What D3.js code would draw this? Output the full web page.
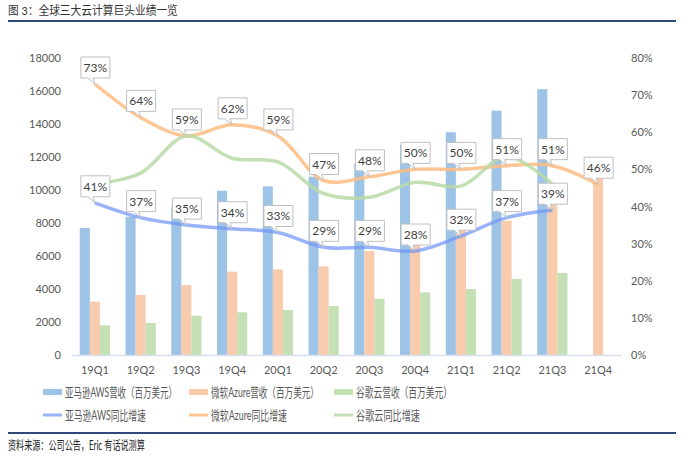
<!DOCTYPE html>
<html>
<head>
<meta charset="utf-8">
<script src="https://cdn.jsdelivr.net/npm/d3@7"></script>
<style>
  body { margin: 0; background: #fff; }
  text { font-family: Lato, "Noto Sans CJK SC", sans-serif; }
</style>
</head>
<body>
<div id="visualisation"></div>
<script>
// Données
var quarters = ["19Q1","19Q2","19Q3","19Q4","20Q1","20Q2","20Q3","20Q4","21Q1","21Q2","21Q3","21Q4"];
var awsRevenue = [7696, 8381, 8995, 9954, 10219, 10808, 11601, 12742, 13503, 14809, 16110, null];
var azureRevenue = [3230, 3640, 4240, 5050, 5190, 5370, 6300, 6830, 7740, 8140, 9350, 10850];
var googleRevenue = [1800, 1940, 2380, 2590, 2730, 2970, 3410, 3800, 4000, 4610, 4970, null];
var awsGrowth = [41, 37, 35, 34, 33, 29, 29, 28, 32, 37, 39, null];
var azureGrowth = [73, 64, 59, 62, 59, 47, 48, 50, 50, 51, 51, 46];
var googleGrowth = [46, 49, 59, 53, 52, 43.5, 42.5, 46.5, 45.5, 53.5, 46, null];
var leftTicks = [0, 2000, 4000, 6000, 8000, 10000, 12000, 14000, 16000, 18000];
var rightTicks = [0, 10, 20, 30, 40, 50, 60, 70, 80];
var barNames = ["亚马逊AWS营收（百万美元）", "微软Azure营收（百万美元）", "谷歌云营收（百万美元）"];
var lineNames = ["亚马逊AWS同比增速", "微软Azure同比增速", "谷歌云同比增速"];

var barColor = ["#9dc3e6", "#f8cbad", "#c5e0b4"];
var lineColor = ["#7096f6", "#ffbc80", "#b9d9a6"];
var lineOpacity = [0.72, 0.85, 0.85];
var textColor = "#595959";

// largeurs des textes dans l'image d'origine (police plus étroite)
var barNameWidth = [112, 108, 96];
var lineNameWidth = [81, 76, 64];

//Création du svg
var svg = d3.select("#visualisation")
            .append("svg")
            .attr("width", 684)
            .attr("height", 458);

// texte resserré horizontalement jusqu'à la largeur voulue
function narrowText(x, y, size, color, width, txt)
{
  var t = svg.append("text")
     .attr("font-size", size).attr("fill", color)
     .text(txt);
  var k = width / t.node().getComputedTextLength();
  t.attr("transform", "translate(" + x + "," + y + ") scale(" + k + ",1)");
  return t;
}

// Titre et filets
narrowText(8, 15, 12, "#333", 170, "图 3：全球三大云计算巨头业绩一览");
svg.append("line").attr("x1", 8).attr("x2", 676).attr("y1", 21).attr("y2", 21)
   .attr("stroke", "#2d4a78").attr("stroke-width", 2);
svg.append("line").attr("x1", 8).attr("x2", 676).attr("y1", 433).attr("y2", 433)
   .attr("stroke", "#2d4a78").attr("stroke-width", 2);
narrowText(8, 450, 12.5, "#222", 137, "资料来源：公司公告，Eric 有话说测算");

// Echelles
var x0 = d3.scaleBand().domain(quarters).range([72, 621]).padding(0);
var bw = x0.bandwidth();
var x1 = d3.scaleBand().domain([0, 1, 2]).range([bw * 0.17, bw * 0.83]).padding(0);
var yLeft = d3.scaleLinear().domain([0, 18000]).range([355, 58]);
var yRight = d3.scaleLinear().domain([0, 80]).range([355, 58]);

function cx(q) { return x0(q) + x1(1) + x1.bandwidth() / 2; }

// Axes
var axisLeft = d3.axisLeft(yLeft).tickValues(leftTicks).tickSize(0).tickPadding(0)
                 .tickFormat(d3.format("d"));
var gl = svg.append("g").attr("transform", "translate(61,0)").call(axisLeft);
var axisRight = d3.axisRight(yRight).tickValues(rightTicks).tickSize(0).tickPadding(0)
                  .tickFormat(function(d){ return d + "%"; });
var gr = svg.append("g").attr("transform", "translate(631,0)").call(axisRight);
var axisBottom = d3.axisBottom(x0).tickSize(0).tickPadding(11);
var gb = svg.append("g").attr("transform", "translate(0,355)").call(axisBottom);

[gl, gr, gb].forEach(function(g){
  g.select(".domain").remove();
  g.selectAll("text").attr("font-size", 11).attr("fill", textColor)
   .attr("font-family", "Lato, 'Noto Sans CJK SC', sans-serif");
});
gb.selectAll("text").attr("dy", "0.71em");

// Barres
var series = [awsRevenue, azureRevenue, googleRevenue];
var barGroup = svg.append("g");
series.forEach(function(values, s){
  barGroup.selectAll(".bar" + s)
    .data(quarters.map(function(q, i){ return {q: q, v: values[i]}; }).filter(function(d){ return d.v != null; }))
    .enter()
      .append("rect")
      .attr("x", function(d){ return x0(d.q) + x1(s); })
      .attr("y", function(d){ return yLeft(d.v); })
      .attr("width", x1.bandwidth())
      .attr("height", function(d){ return 355 - yLeft(d.v); })
      .attr("fill", barColor[s]);
});

// Axe horizontal
svg.append("line").attr("x1", 72).attr("x2", 621).attr("y1", 355.5).attr("y2", 355.5)
   .attr("stroke", "#d6e0ef").attr("stroke-width", 1.5);

// Courbes
var growth = [awsGrowth, azureGrowth, googleGrowth];
var line = d3.line()
  .defined(function(d){ return d.v != null; })
  .x(function(d){ return cx(d.q); })
  .y(function(d){ return yRight(d.v); })
  .curve(d3.curveCatmullRom.alpha(0.5));

[0, 1, 2].forEach(function(s){
  svg.append("path")
    .datum(quarters.map(function(q, i){ return {q: q, v: growth[s][i]}; }).filter(function(d){ return d.v != null; }))
    .attr("d", line)
    .attr("fill", "none")
    .attr("stroke", lineColor[s])
    .attr("stroke-width", 3.5)
    .attr("stroke-opacity", lineOpacity[s]);
});

// Etiquettes (bulles)
function callout(g, px, py, label)
{
  var left = px - 14, w = 29, h = 21;
  var bottom = py - 6, top = bottom - h;
  var path = "M" + left + "," + top + " H" + (left + w) + " V" + bottom +
             " H" + (px - 2) + " L" + px + "," + py + " L" + (px - 7) + "," + bottom +
             " H" + left + " Z";
  g.append("path").attr("d", path)
   .attr("fill", "#fff").attr("stroke", "#bfbfbf").attr("stroke-width", 1);
  g.append("text")
   .attr("x", left + w / 2).attr("y", top + h / 2 + 4.5)
   .attr("text-anchor", "middle")
   .attr("font-size", 12).attr("fill", "#404040")
   .text(label);
}

var labelGroup = svg.append("g");
[awsGrowth, azureGrowth].forEach(function(values){
  quarters.forEach(function(q, i){
    if(values[i] == null) return;
    callout(labelGroup, cx(q), yRight(values[i]), values[i] + "%");
  });
});

// Légende
var legendX = [43, 189, 334];
barNames.forEach(function(name, i){
  svg.append("rect").attr("x", legendX[i]).attr("y", 389).attr("width", 19).attr("height", 6)
     .attr("fill", barColor[i]);
  narrowText(legendX[i] + 22, 397, 13, textColor, barNameWidth[i], name);
});
lineNames.forEach(function(name, i){
  svg.append("line").attr("x1", legendX[i]).attr("x2", legendX[i] + 19).attr("y1", 415).attr("y2", 415)
     .attr("stroke", lineColor[i]).attr("stroke-width", 3).attr("stroke-opacity", lineOpacity[i]);
  narrowText(legendX[i] + 22, 420, 13, textColor, lineNameWidth[i], name);
});
</script>
</body>
</html>
